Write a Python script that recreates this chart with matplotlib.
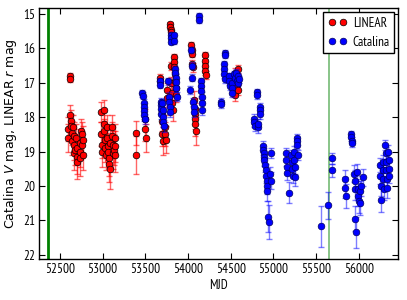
import matplotlib
matplotlib.use("Agg")
import matplotlib.pyplot as plt
from matplotlib import font_manager

# ---------------- data ----------------
linear_mjd = [52615, 52618,
              52590, 52594, 52620, 52625, 52630, 52635, 52640, 52655, 52660, 52665, 52670, 52675,
              52690, 52695, 52700, 52705, 52730, 52735, 52740, 52745, 52755, 52760, 52765, 52770,
              52980, 52985, 52990, 52995, 53010, 53015, 53020, 53025, 53030, 53035,
              53050, 53055, 53060, 53065, 53075, 53080, 53085, 53088,
              53110, 53115, 53120, 53125, 53130, 53140, 53145, 53150,
              53385, 53390, 53495, 53500, 53505,
              53670, 53675, 53690, 53695, 53700, 53705, 53730, 53735, 53740, 53750, 53755,
              53790, 53793, 53796, 53799, 53800, 53805, 53810, 53815, 53820,
              53835, 53838, 53841, 53845, 53850, 53855, 53860,
              54040, 54043, 54046, 54050, 54053, 54075, 54078, 54080, 54083, 54086, 54090,
              54195, 54198, 54200, 54203, 54206,
              54520, 54530, 54540, 54545, 54555, 54560, 54570, 54580, 54590]
linear_mag = [16.80, 16.90,
              18.35, 18.60, 17.95, 18.10, 18.25, 18.45, 18.70, 18.30, 18.55, 18.80, 19.05, 18.95,
              18.60, 19.15, 19.30, 18.90, 18.75, 19.00, 19.20, 18.40, 18.50, 18.80, 19.10, 18.65,
              17.85, 18.50, 18.80, 19.00, 17.80, 18.20, 18.40, 18.65, 18.90, 19.10,
              18.30, 18.60, 18.85, 19.00, 19.20, 19.35, 19.50, 18.75,
              18.30, 18.55, 18.80, 19.05, 18.95, 18.60, 18.85, 19.10,
              18.45, 19.10, 18.05, 18.35, 18.60,
              16.85, 16.95, 17.90, 18.10, 18.50, 18.70, 18.30, 18.50, 18.65, 17.20, 17.45,
              15.30, 15.38, 15.45, 15.52, 16.50, 17.00, 17.30, 17.60, 17.80,
              16.25, 16.40, 16.55, 16.75, 16.95, 17.15, 17.35,
              15.90, 16.05, 16.15, 16.45, 16.55, 17.50, 17.75, 17.90, 18.05, 18.20, 18.40,
              16.20, 16.35, 16.50, 16.65, 16.78,
              16.95, 17.10, 17.25, 16.70, 17.35, 16.85, 17.05, 16.60, 17.20]
linear_err = [0.08, 0.08,
              0.35, 0.40, 0.30, 0.30, 0.35, 0.35, 0.40, 0.35, 0.40, 0.45, 0.50, 0.45,
              0.40, 0.50, 0.50, 0.40, 0.40, 0.45, 0.50, 0.35, 0.35, 0.40, 0.45, 0.40,
              0.30, 0.35, 0.40, 0.45, 0.30, 0.35, 0.35, 0.40, 0.40, 0.45,
              0.35, 0.40, 0.40, 0.45, 0.50, 0.55, 0.60, 0.40,
              0.35, 0.40, 0.40, 0.45, 0.45, 0.40, 0.45, 0.50,
              0.35, 0.55, 0.30, 0.35, 0.40,
              0.12, 0.12, 0.30, 0.30, 0.35, 0.40, 0.35, 0.35, 0.40, 0.20, 0.25,
              0.08, 0.08, 0.08, 0.08, 0.12, 0.18, 0.20, 0.25, 0.30,
              0.10, 0.10, 0.12, 0.12, 0.15, 0.18, 0.20,
              0.10, 0.10, 0.10, 0.12, 0.12, 0.25, 0.30, 0.30, 0.30, 0.35, 0.40,
              0.10, 0.10, 0.12, 0.12, 0.12,
              0.15, 0.15, 0.15, 0.12, 0.18, 0.12, 0.15, 0.12, 0.15]

css_mjd = [53465, 53468, 53480, 53483, 53486, 53490, 53493,
           53670, 53673, 53680, 53683, 53686, 53689, 53700, 53703, 53706, 53710, 53713,
           53760, 53780, 53783, 53786, 53790, 53800, 53803, 53806, 53830, 53833,
           53850, 53853, 53856, 53859, 53865, 53870,
           54020, 54040, 54048, 54050, 54060, 54065, 54070, 54125, 54128,
           54150, 54153, 54156, 54160, 54163, 54166,
           54385, 54388, 54435, 54438, 54420, 54423, 54426, 54430, 54480, 54485, 54490,
           54510, 54515, 54520, 54540, 54545, 54560, 54570, 54580, 54590, 54600,
           54775, 54778, 54781, 54810, 54813, 54820, 54823, 54840, 54843, 54846,
           54880, 54883, 54886, 54890, 54893, 54905, 54910, 54915, 54920, 54925, 54930,
           54940, 54943, 54965, 54968, 54970,
           55150, 55153, 55156, 55160, 55185, 55210, 55215, 55220, 55225,
           55240, 55245, 55250, 55255, 55275, 55278, 55281, 55285,
           55559, 55641, 55688, 55690,
           55840, 55843, 55846, 55910, 55913, 55916, 55919,
           55950, 55953, 55956, 55960, 55963, 55985, 55990, 55995, 56000, 56010, 56020, 56030, 56045,
           56250, 56253, 56256, 56260, 56280, 56285, 56290, 56295,
           56310, 56315, 56320, 56325, 56330, 56335, 56345, 56350, 56355, 56360]
css_mag = [17.30, 17.38, 17.60, 17.70, 17.82, 17.95, 18.05,
           16.95, 17.05, 17.55, 17.65, 17.75, 17.90, 17.60, 17.80, 18.00, 18.15, 18.25,
           16.95, 17.40, 17.55, 17.70, 17.85, 15.60, 15.70, 15.80, 15.62, 15.78,
           16.60, 16.72, 16.85, 16.98, 17.15, 17.40,
           17.20, 16.05, 16.50, 16.85, 17.55, 17.70, 17.85, 15.05, 15.18,
           16.95, 17.10, 17.25, 17.40, 17.60, 17.80,
           17.55, 17.62, 16.12, 16.20, 16.45, 16.60, 16.75, 16.90, 16.80, 16.95, 17.10,
           17.00, 17.15, 17.30, 16.75, 16.85, 16.70, 16.95, 17.00, 16.80, 16.90,
           18.05, 18.15, 18.25, 17.28, 17.36, 18.30, 18.20, 17.70, 17.80, 17.92,
           18.85, 18.95, 19.05, 19.15, 19.25, 19.40, 19.55, 19.70, 19.85, 20.00, 20.15,
           20.90, 21.05, 19.65, 19.85, 19.05,
           19.05, 19.25, 19.45, 19.62, 20.20, 19.10, 19.30, 19.50, 19.70,
           19.00, 19.25, 19.45, 19.75, 18.60, 18.70, 18.80, 19.10,
           21.18, 20.57, 19.20, 19.55,
           19.80, 20.05, 20.30, 18.50, 18.58, 18.68, 18.76,
           19.65, 19.85, 20.10, 20.95, 21.35, 19.60, 20.10, 20.30, 20.45, 20.15, 20.50, 20.00, 19.75,
           19.40, 19.70, 20.00, 20.40, 19.30, 19.55, 19.80, 20.10,
           18.80, 19.05, 19.30, 19.55, 19.80, 20.05, 19.00, 19.25, 19.50, 19.70]
css_err = [0.10, 0.10, 0.12, 0.12, 0.12, 0.15, 0.15,
           0.10, 0.10, 0.12, 0.12, 0.15, 0.15, 0.12, 0.15, 0.15, 0.15, 0.18,
           0.10, 0.12, 0.12, 0.15, 0.15, 0.08, 0.08, 0.08, 0.08, 0.08,
           0.10, 0.10, 0.10, 0.10, 0.12, 0.12,
           0.12, 0.08, 0.10, 0.10, 0.12, 0.15, 0.15, 0.08, 0.08,
           0.10, 0.12, 0.12, 0.12, 0.15, 0.15,
           0.12, 0.12, 0.08, 0.08, 0.10, 0.10, 0.10, 0.10, 0.10, 0.10, 0.12,
           0.10, 0.12, 0.12, 0.10, 0.10, 0.10, 0.10, 0.10, 0.10, 0.10,
           0.15, 0.15, 0.15, 0.10, 0.10, 0.15, 0.15, 0.12, 0.12, 0.12,
           0.15, 0.15, 0.15, 0.18, 0.18, 0.20, 0.20, 0.22, 0.25, 0.25, 0.30,
           0.45, 0.50, 0.20, 0.25, 0.15,
           0.15, 0.18, 0.20, 0.22, 0.30, 0.15, 0.18, 0.20, 0.22,
           0.15, 0.18, 0.20, 0.25, 0.12, 0.12, 0.12, 0.15,
           0.60, 0.40, 0.15, 0.20,
           0.25, 0.30, 0.35, 0.10, 0.10, 0.10, 0.10,
           0.25, 0.30, 0.30, 0.35, 0.45, 0.25, 0.30, 0.30, 0.35, 0.30, 0.35, 0.30, 0.25,
           0.20, 0.25, 0.30, 0.35, 0.20, 0.20, 0.25, 0.30,
           0.15, 0.18, 0.20, 0.20, 0.25, 0.30, 0.18, 0.20, 0.20, 0.22]

vline_thick = 52356
vline_thin = 55649
x_ticks = [52500, 53000, 53500, 54000, 54500, 55000, 55500, 56000]
y_ticks = [15, 16, 17, 18, 19, 20, 21, 22]

# ---------------- fonts ----------------
names = {f.name for f in font_manager.fontManager.ttflist}
narrow = 'DejaVu Sans'
for cand in ['PT Sans Narrow', 'Archivo Narrow', 'Roboto Condensed', 'DejaVu Sans Condensed']:
    if cand in names:
        narrow = cand
        break

plt.rcParams['font.family'] = ['DejaVu Sans']
plt.rcParams['mathtext.fontset'] = 'dejavusans'

fig = plt.figure(figsize=(4.07, 3.0), dpi=100)
ax = fig.add_axes([0.0958, 0.1377, 0.8829, 0.8346])

ax.errorbar(linear_mjd, linear_mag, yerr=linear_err, fmt='none', ecolor='red',
            elinewidth=1.0, capsize=2, alpha=0.6, zorder=2)
ax.plot(linear_mjd, linear_mag, 'o', color='red', mec='black', mew=0.5,
        ms=4.8, label='LINEAR', zorder=3)
ax.errorbar(css_mjd, css_mag, yerr=css_err, fmt='none', ecolor='blue',
            elinewidth=1.0, capsize=2, alpha=0.5, zorder=4)
ax.plot(css_mjd, css_mag, 'o', color='blue', mec='#000060', mew=0.5,
        ms=4.8, label='Catalina', zorder=5)

ax.axvline(vline_thick, color='green', lw=2.0, zorder=1)
ax.axvline(vline_thin, color='green', lw=1.3, alpha=0.5, zorder=1)

ax.set_xlim(52254, 56464)
ax.set_ylim(22.12, 14.83)
ax.set_xticks(x_ticks)
ax.set_yticks(y_ticks)
ax.set_xticklabels([str(t) for t in x_ticks], fontfamily=narrow, fontsize=9.5)
ax.set_yticklabels([str(t) for t in y_ticks], fontfamily=narrow, fontsize=9.5)
ax.tick_params(direction='in', top=True, right=True, length=4, width=0.8, pad=3)
for s in ax.spines.values():
    s.set_linewidth(1.0)

ax.set_xlabel('MJD', fontfamily=narrow, fontsize=9.5, labelpad=2)
ax.set_ylabel('Catalina $V$ mag, LINEAR $r$ mag', fontsize=9, labelpad=3)

leg = ax.legend(loc='upper right', numpoints=2, prop={'family': narrow, 'size': 9.5},
                fancybox=False, framealpha=1, edgecolor='black',
                borderpad=0.35, handletextpad=0.4, handlelength=1.5,
                borderaxespad=0.3, labelspacing=0.45)
leg.get_frame().set_linewidth(1.0)

fig.savefig('out.png', dpi=100)
